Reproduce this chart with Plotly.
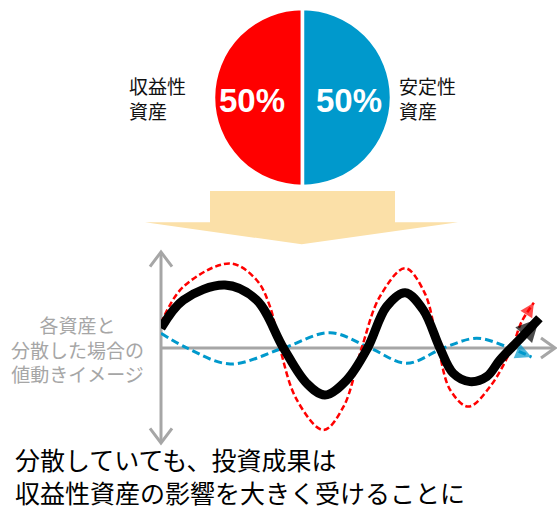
import plotly.graph_objects as go

W, H = 557, 517

# ---- allocation (pie) ----
asset_labels = ["収益性資産", "安定性資産"]
asset_shares = [50, 50]
asset_colors = ["#FF0000", "#0099CC"]

# ---- illustrative price paths: time, value ----
risky_t = [0.0, 0.565, 1.75, 2.42, 2.76, 3.01, 3.44, 4.11, 4.62, 5.08, 5.54, 6.18,
           6.68, 7.02, 7.32, 7.78, 8.33, 8.88, 9.13, 9.44]
risky_v = [0.26, 0.645, 0.89, 0.716, 0.435, 0.0, -0.547, -0.863, -0.618, 0.0, 0.54, 0.84,
           0.575, 0.0, -0.44, -0.617, -0.407, 0.0, 0.277, 0.477]

stable_t = [0.0, 0.66, 1.75, 3.1, 4.28, 5.29, 6.22, 7.15, 7.99, 8.75, 9.38]
stable_v = [0.155, 0.0, -0.168, 0.0, 0.161, 0.0, -0.161, 0.0, 0.102, 0.014, -0.095]

mix_t = [0.0, 0.565, 1.62, 2.42, 3.10, 3.69, 4.15, 4.70, 5.23, 5.71, 6.18, 6.64,
         7.06, 7.40, 7.82, 8.25, 8.58, 9.10, 9.58]
mix_v = [0.207, 0.505, 0.663, 0.505, 0.0, -0.372, -0.495, -0.337, 0.0, 0.435, 0.582, 0.4,
         0.0, -0.267, -0.354, -0.30, -0.126, 0.10, 0.313]

GRAY = "#A6A6A6"
JP = "Noto Sans CJK JP"


def px(x):
    return x / W


def py(y):
    return 1 - y / H


fig = go.Figure()

# pie: start at 6 o'clock and sweep clockwise -> 収益性 fills the left half
fig.add_trace(go.Pie(
    labels=asset_labels, values=asset_shares, sort=False,
    direction="clockwise", rotation=180,
    marker=dict(colors=asset_colors, line=dict(color="white", width=3.5)),
    textinfo="none", hoverinfo="skip", showlegend=False,
    domain=dict(x=[px(213.5), px(391.5)], y=[py(186.5), py(8.5)]),
))


def path_trace(t, v, color, width, dash, head):
    n = len(t)
    return go.Scatter(
        x=t, y=v, mode="lines+markers", showlegend=False, hoverinfo="skip",
        line=dict(color=color, width=width, dash=dash, shape="spline", smoothing=1.0),
        marker=dict(symbol="arrow-up", angleref="previous", color=color,
                    size=[0] * (n - 1) + [head], line=dict(width=0)),
        xaxis="x", yaxis="y",
    )


fig.add_trace(path_trace(stable_t, stable_v, "#0099CC", 3, "8px,4px", 16))
fig.add_trace(path_trace(risky_t, risky_v, "#FF0000", 2.5, "6px,3px", 14))
fig.add_trace(path_trace(mix_t, mix_v, "#000000", 9, "solid", 23))

shapes = []
# down arrow between pie and chart
shapes.append(dict(
    type="path", xref="paper", yref="paper", layer="below",
    path=(f"M{px(210)},{py(191)} L{px(395)},{py(191)} L{px(395)},{py(222.3)} "
          f"L{px(458)},{py(222.3)} L{px(301.7)},{py(244.3)} L{px(145)},{py(222.3)} "
          f"L{px(210)},{py(222.3)} Z"),
    fillcolor="#FBE0A8", line=dict(width=0),
))
# axes with open arrowheads
axis_paths = [
    f"M{px(161)},{py(252)} L{px(161)},{py(443)}",
    f"M{px(150)},{py(266.7)} L{px(161)},{py(252)} L{px(172)},{py(266.7)}",
    f"M{px(150)},{py(428.3)} L{px(161)},{py(443)} L{px(172)},{py(428.3)}",
    f"M{px(161)},{py(348)} L{px(555)},{py(348)}",
    f"M{px(541)},{py(338)} L{px(555)},{py(348)} L{px(541)},{py(358)}",
]
for p in axis_paths:
    shapes.append(dict(type="path", xref="paper", yref="paper", layer="below",
                       path=p, line=dict(color=GRAY, width=3)))

total = sum(asset_shares)
annotations = [
    dict(x=px(252), y=py(100), text=f"{asset_shares[0] / total * 100:.0f}%"),
    dict(x=px(349), y=py(100), text=f"{asset_shares[1] / total * 100:.0f}%"),
]
for a in annotations:
    a.update(xref="paper", yref="paper", showarrow=False, xanchor="center", yanchor="middle",
             font=dict(family="Liberation Sans, Arial", size=33, color="white", weight="bold"))

annotations += [
    dict(x=px(127), y=py(98), text="収益性<br>資産", xanchor="left", align="left",
         font=dict(family=JP, size=19, color="#111111")),
    dict(x=px(397), y=py(98), text="安定性<br>資産", xanchor="left", align="left",
         font=dict(family=JP, size=19, color="#111111")),
    dict(x=px(77), y=py(349), text="各資産と<br>分散した場合の<br>値動きイメージ",
         xanchor="center", align="center", font=dict(family=JP, size=19, color=GRAY)),
    dict(x=px(13), y=py(475), text="分散していても、投資成果は<br>収益性資産の影響を大きく受けることに",
         xanchor="left", align="left", font=dict(family=JP, size=25, color="#000000")),
]
for a in annotations[2:]:
    a.update(xref="paper", yref="paper", showarrow=False, yanchor="middle")

fig.update_layout(
    width=W, height=H, margin=dict(l=0, r=0, t=0, b=0),
    paper_bgcolor="white", plot_bgcolor="rgba(0,0,0,0)",
    xaxis=dict(domain=[px(161), px(556)], range=[0, 10], visible=False, fixedrange=True),
    yaxis=dict(domain=[py(443), py(253)], range=[-1, 1], visible=False, fixedrange=True),
    shapes=shapes, annotations=annotations,
)

fig.write_html("out.html")
